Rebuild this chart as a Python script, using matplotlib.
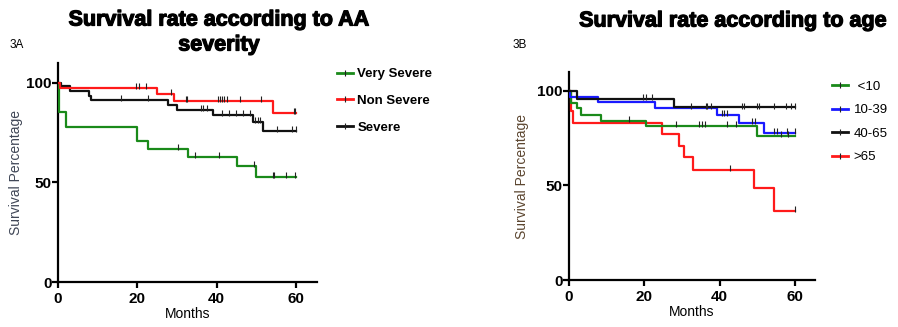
import numpy as np
import matplotlib
matplotlib.use("Agg")
import matplotlib.pyplot as plt
import matplotlib.patheffects as pe
from matplotlib.lines import Line2D

plt.rcParams["font.family"] = ["Liberation Sans", "DejaVu Sans"]

# ── 3A: survival by AA severity ──
a_labels = ["Very Severe", "Non Severe", "Severe"]
a_colors = ["#1a8a1a", "#ff1a1a", "#111111"]

vs_t = [0, 0.3, 2.1, 20.0, 22.7, 32.9, 45.1, 50.0, 60]
vs_s = [100, 85.4, 77.9, 70.9, 66.7, 62.8, 58.1, 52.8, 52.8]
vs_c = [30.3, 34.5, 40.6, 49.3, 54.2, 54.5, 57.5, 59.8]

ns_t = [0, 0.5, 24.9, 29.2, 54.3, 60]
ns_s = [100, 97.2, 94.3, 91.1, 85.1, 85.1]
ns_c = [19.6, 20.5, 22.2, 28.4, 32.3, 32.6, 40.4, 40.9, 41.4, 41.9, 42.5,
        45.9, 51.1, 59.4, 59.8]

sv_t = [0, 0.7, 3.0, 7.8, 8.4, 27.8, 29.9, 39.0, 49.1, 51.8, 60]
sv_s = [100, 98.3, 95.8, 93.5, 91.3, 89.1, 86.6, 83.8, 80.4, 75.7, 75.7]
sv_c = [15.8, 22.7, 36.0, 36.5, 37.5, 41.4, 43.1, 44.9, 46.6, 48.3, 49.7,
        50.3, 51.0, 55.2, 59.0, 60]

# ── 3B: survival by age ──
b_labels = [" <10", "10-39", "40-65", ">65"]
b_colors = ["#1a8a1a", "#1a1aff", "#111111", "#ff1a1a"]

g1_t = [0, 0.5, 2.0, 3.2, 8.5, 20.4, 49.8, 60]
g1_s = [100, 93.4, 90.9, 87.4, 84.3, 81.3, 76.0, 76.0]
g1_c = [15.8, 28.3, 34.5, 35.2, 36.1, 41.9, 44.2, 56.2, 58.0]

g2_t = [0, 0.3, 7.8, 22.8, 39.2, 45.0, 51.8, 60]
g2_s = [100, 97.0, 94.0, 90.9, 87.4, 83.0, 77.8, 77.8]
g2_c = [40.5, 41.1, 41.9, 48.5, 49.4, 54.4, 55.3, 57.8, 60]

g3_t = [0, 2.0, 27.9, 60]
g3_s = [100, 95.8, 91.3, 91.3]
g3_c = [19.7, 20.4, 22.1, 32.3, 36.3, 36.7, 37.6, 45.8, 46.5, 50.0, 50.5,
        54.4, 57.6, 58.8, 60]

g4_t = [0, 0.5, 1.2, 24.8, 29.3, 30.5, 32.8, 49.1, 54.4, 60]
g4_s = [100, 89.2, 83.0, 77.3, 71.0, 65.0, 58.2, 48.6, 36.4, 36.4]
g4_c = [42.7, 60]


def km(ax, t, s, c, color):
    ax.step(t, s, where="post", color=color, lw=1.6, zorder=3)
    idx = np.searchsorted(t, c, side="right") - 1
    yv = np.array(s)[idx] + 1.0
    ax.plot(c, yv, ls="none", marker="|", ms=4, mew=0.8, color="#222222", zorder=4)


def style(ax, ylab_color, ylab_x):
    ax.set_xlim(0, 65.3)
    ax.set_ylim(0, 110)
    ax.set_xticks([0, 20, 40, 60])
    ax.set_yticks([0, 50, 100])
    for sp in ["top", "right"]:
        ax.spines[sp].set_visible(False)
    for sp in ["left", "bottom"]:
        ax.spines[sp].set_linewidth(1.6)
    ax.tick_params(width=1.6, length=4, labelsize=11)
    ax.tick_params(axis="y", pad=0.5)
    ax.tick_params(axis="x", pad=3)
    for lab in ax.get_xticklabels() + ax.get_yticklabels():
        lab.set_fontweight("bold")
    ax.set_xlabel("Months", fontsize=10, labelpad=1)
    ax.set_ylabel("Survival Percentage", fontsize=10, color=ylab_color)
    ax.yaxis.set_label_coords(ylab_x, 0.5)


fig = plt.figure(figsize=(8.98, 3.27), dpi=100)

ax1 = fig.add_axes([0.0646, 0.1376, 0.2884, 0.670])
km(ax1, vs_t, vs_s, vs_c, a_colors[0])
km(ax1, sv_t, sv_s, sv_c, a_colors[2])
km(ax1, ns_t, ns_s, ns_c, a_colors[1])
style(ax1, "#3f4656", -0.135)

ax2 = fig.add_axes([0.6336, 0.1437, 0.274, 0.636])
km(ax2, g4_t, g4_s, g4_c, b_colors[3])
km(ax2, g1_t, g1_s, g1_c, b_colors[0])
km(ax2, g2_t, g2_s, g2_c, b_colors[1])
km(ax2, g3_t, g3_s, g3_c, b_colors[2])
style(ax2, "#5c4630", -0.163)

def handles(colors):
    return [Line2D([0], [0], color=c, lw=2, marker="|", ms=4, mew=0.8,
                   markeredgecolor="#222222") for c in colors]

fig.legend(handles(a_colors), a_labels, loc="upper left",
           bbox_to_anchor=(0.362, 0.828), frameon=False, handlelength=1.25,
           handletextpad=0.3, labelspacing=1.1, prop={"weight": "bold", "size": 9.5})
fig.legend(handles(b_colors), b_labels, loc="upper left",
           bbox_to_anchor=(0.913, 0.79), frameon=False, handlelength=1.25,
           handletextpad=0.4, labelspacing=0.85, prop={"size": 9.5})

heavy = [pe.withStroke(linewidth=0.9, foreground="black")]
fig.text(219 / 898, 1 - 20 / 327, "Survival rate according to AA",
         ha="center", va="center", fontsize=15.5, fontweight="bold", path_effects=heavy)
fig.text(219 / 898, 1 - 45 / 327, "severity",
         ha="center", va="center", fontsize=15.5, fontweight="bold", path_effects=heavy)
fig.text(733 / 898, 1 - 21 / 327, "Survival rate according to age",
         ha="center", va="center", fontsize=15.5, fontweight="bold", path_effects=heavy)
fig.text(10 / 898, 1 - 45 / 327, "3A", ha="left", va="center", fontsize=8.5)
fig.text(513 / 898, 1 - 45 / 327, "3B", ha="left", va="center", fontsize=8.5)

fig.savefig("out.png", dpi=100)
